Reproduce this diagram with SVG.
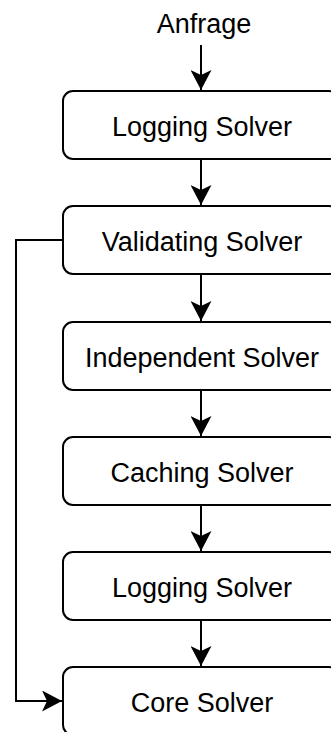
<svg xmlns="http://www.w3.org/2000/svg" width="331" height="732" viewBox="0 0 331 732">
<style>
.box{fill:#fff;stroke:#000;stroke-width:2}
.lbl{font-family:"Liberation Sans",Arial,sans-serif;font-size:27px;fill:#000;text-anchor:middle}
.edge{fill:none;stroke:#000;stroke-width:2}
</style>
<defs>
<marker id="ah" viewBox="0 0 20 21" refX="20" refY="10.5" markerWidth="20" markerHeight="21" markerUnits="userSpaceOnUse" orient="auto">
<path d="M0,0 L20,10.5 L0,21 L5,10.5 Z" fill="#000"/>
</marker>
</defs>
<rect width="331" height="732" fill="#fff"/>
<g id="edges">
<path class="edge" d="M201,45 V90" marker-end="url(#ah)"/>
<path class="edge" d="M201,159 V205" marker-end="url(#ah)"/>
<path class="edge" d="M201,274 V321" marker-end="url(#ah)"/>
<path class="edge" d="M201,390 V436" marker-end="url(#ah)"/>
<path class="edge" d="M201,505 V551" marker-end="url(#ah)"/>
<path class="edge" d="M201,620 V666" marker-end="url(#ah)"/>
<path class="edge" d="M63,240 H16 V701 H62" marker-end="url(#ah)"/>
</g>
<g id="anfrage"><text class="lbl" x="204" y="33">Anfrage</text></g>
<g id="logging1"><rect class="box" x="63" y="91" width="276" height="68" rx="10"/><text class="lbl" x="202" y="136">Logging Solver</text></g>
<g id="validating"><rect class="box" x="63" y="206" width="276" height="68" rx="10"/><text class="lbl" x="202" y="251">Validating Solver</text></g>
<g id="independent"><rect class="box" x="63" y="322" width="276" height="68" rx="10"/><text class="lbl" x="202" y="367">Independent Solver</text></g>
<g id="caching"><rect class="box" x="63" y="437" width="276" height="68" rx="10"/><text class="lbl" x="202" y="482">Caching Solver</text></g>
<g id="logging2"><rect class="box" x="63" y="552" width="276" height="68" rx="10"/><text class="lbl" x="202" y="597">Logging Solver</text></g>
<g id="core"><rect class="box" x="63" y="667" width="276" height="68" rx="10"/><text class="lbl" x="202" y="712">Core Solver</text></g>
</svg>
